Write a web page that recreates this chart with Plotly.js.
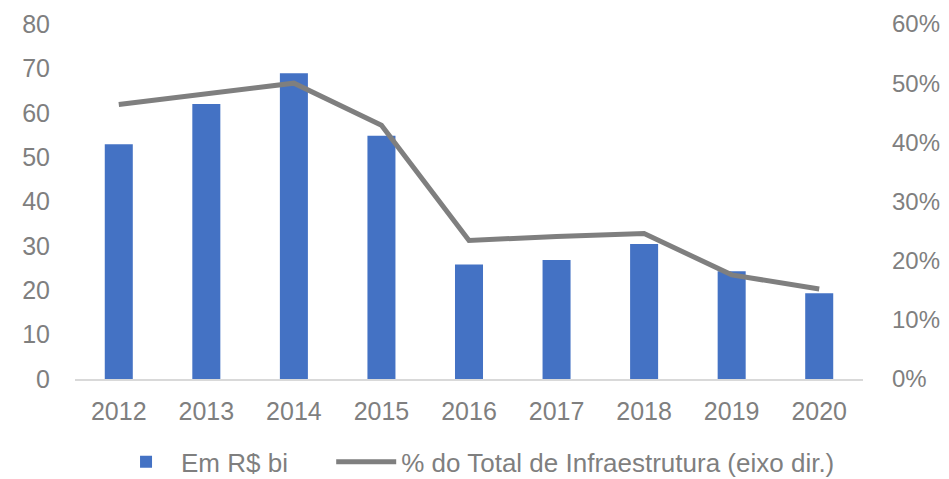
<!DOCTYPE html>
<html>
<head>
<meta charset="utf-8">
<script src="https://cdn.plot.ly/plotly-3.0.1.min.js"></script>
<style>html,body{margin:0;padding:0;background:#fff;}#chart{width:949px;height:479px;}</style>
</head>
<body>
<div id="chart"></div>
<script>
const years = ['2012','2013','2014','2015','2016','2017','2018','2019','2020'];
const valoresBi = [52.9, 62.0, 68.9, 54.8, 25.8, 26.8, 30.4, 24.3, 19.3];
const pctTotal = [46.4, 48.3, 50.0, 42.9, 23.4, 24.1, 24.6, 17.6, 15.2];
const nomeBarras = 'Em R$ bi';
const nomeLinha = '% do Total de Infraestrutura (eixo dir.)';

const gray = '#7f7f7f';
const fontFam = '"Liberation Sans", Arial, sans-serif';

const traces = [
  {
    type: 'bar', x: years, y: valoresBi, name: nomeBarras,
    marker: {color: '#4472C4'}, width: 0.32, yaxis: 'y', legend: 'legend'
  },
  {
    type: 'scatter', mode: 'lines', x: years, y: pctTotal, name: nomeLinha,
    line: {color: gray, width: 5}, yaxis: 'y2', legend: 'legend2'
  }
];

const legendBase = {orientation: 'h', xref: 'container', yref: 'container', xanchor: 'left',
                    y: 0.036, yanchor: 'middle', itemwidth: 60,
                    font: {size: 26, color: gray}, bgcolor: 'rgba(0,0,0,0)'};

const layout = {
  width: 949, height: 479,
  margin: {l: 75, r: 86, t: 24, b: 100},
  paper_bgcolor: '#fff', plot_bgcolor: '#fff',
  font: {family: fontFam, color: gray, size: 24},
  showlegend: true,
  legend: Object.assign({}, legendBase, {x: 0.117}),
  legend2: Object.assign({}, legendBase, {x: 0.349}),
  xaxis: {
    type: 'category', showgrid: false, showline: true, linecolor: '#d9d9d9', linewidth: 2,
    ticks: '', tickfont: {size: 25, color: gray}, ticklabelstandoff: 9, fixedrange: true
  },
  yaxis: {
    range: [0, 80], dtick: 10, showgrid: false, zeroline: false, showline: false,
    ticks: '', tickfont: {size: 25, color: gray}, ticklabelstandoff: 24
  },
  yaxis2: {
    range: [0, 60], dtick: 10, overlaying: 'y', side: 'right', ticksuffix: '%',
    showgrid: false, zeroline: false, showline: false, ticks: '',
    tickfont: {size: 24, color: gray}, ticklabelstandoff: 28
  }
};

Plotly.newPlot('chart', traces, layout, {displayModeBar: false, staticPlot: true});
</script>
</body>
</html>
